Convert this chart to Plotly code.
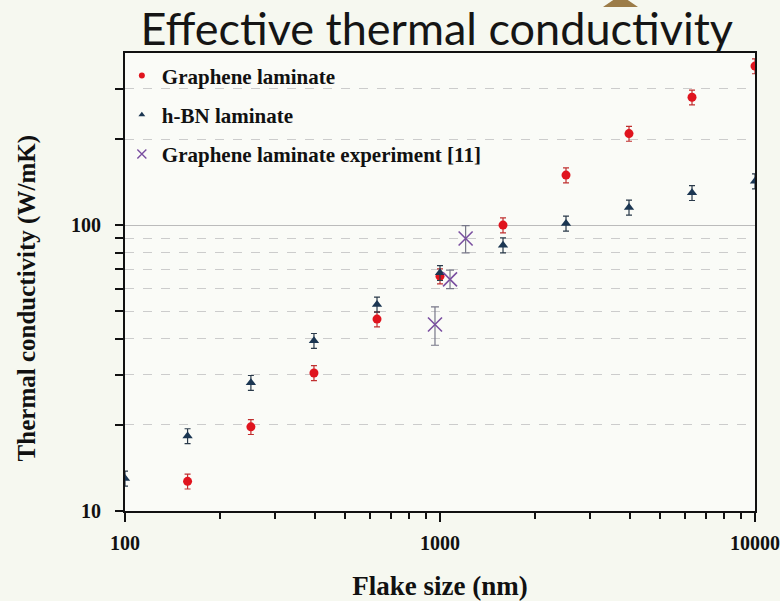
import plotly.graph_objects as go

# Data
flake_size = [100, 158, 251, 398, 631, 1000, 1585, 2512, 3981, 6310, 10000]
graphene_k = [None, 12.7, 19.7, 30.4, 46.9, 66.3, 100, 149.6, 209, 280, 360]
hbn_k = [13.0, 18.3, 28.1, 39.4, 52.8, 68.1, 85.1, 101.4, 115.3, 129.7, 142.5]
exp_size = [964, 1076, 1206]
exp_k = [44.9, 64.6, 89.8]
exp_err_plus = [6.9, 5.0, 9.8]
exp_err_minus = [6.9, 4.6, 9.8]

names = ["Graphene laminate", "h-BN laminate", "Graphene laminate experiment [11]"]

serif = "Liberation Serif, Times New Roman, serif"
red, navy, purple = "#e0141e", "#1b3652", "#7a4fa0"

fig = go.Figure()
fig.add_trace(go.Scatter(
    x=flake_size, y=graphene_k, mode="markers", name=names[0], showlegend=False,
    marker=dict(symbol="circle", size=9, color=red),
    error_y=dict(type="percent", value=6, color="#c03030", thickness=1.2, width=3),
))
fig.add_trace(go.Scatter(
    x=flake_size, y=hbn_k, mode="markers", name=names[1], showlegend=False,
    marker=dict(symbol="triangle-up", size=9, color=navy),
    error_y=dict(type="percent", value=6, color="#2a3a4a", thickness=1.2, width=3),
))
fig.add_trace(go.Scatter(
    x=exp_size, y=exp_k, mode="markers", name=names[2], showlegend=False,
    marker=dict(symbol="x-thin", size=14, color=purple,
                line=dict(width=1.6, color=purple)),
    error_y=dict(type="data", array=exp_err_plus, arrayminus=exp_err_minus,
                 color="#777788", thickness=1.2, width=4),
))

# legend entries (smaller markers, as in the original legend)
legend_styles = [
    dict(symbol="circle", size=6, color=red),
    dict(symbol="triangle-up", size=6, color=navy),
    dict(symbol="x-thin", size=9, color=purple, line=dict(width=1.4, color=purple)),
]
for i, (nm, mk) in enumerate(zip(names, legend_styles)):
    fig.add_trace(go.Scatter(x=[None], y=[None], mode="markers", name=nm,
                             legendgroup=str(i), marker=mk))

fig.update_layout(
    width=780, height=601,
    margin=dict(l=125, r=25, t=53, b=90, autoexpand=False),
    paper_bgcolor="#f6f8f0",
    plot_bgcolor="#fafbf7",
    title=dict(text="Effective thermal conductivity", x=0.56, xanchor="center",
               y=0.952, yanchor="middle",
               font=dict(family="Lato, Open Sans, sans-serif", size=45, color="#151515", weight=400)),
    showlegend=True,
    legend=dict(x=-0.005, y=0.995, xanchor="left", yanchor="top",
                bgcolor="rgba(0,0,0,0)", tracegroupgap=9,
                font=dict(family=serif, size=21, color="#111111", weight="bold"),
                itemwidth=30),
    xaxis=dict(
        type="log", range=[2, 4], automargin=False,
        tickvals=[100, 1000, 10000], ticktext=["100", "1000", "10000"],
        ticks="outside", ticklen=9, tickwidth=2, tickcolor="#111111",
        ticklabelstandoff=4,
        showline=True, linecolor="#111111", linewidth=2, mirror=True,
        showgrid=False, zeroline=False,
        tickfont=dict(family=serif, size=20, color="#111111", weight="bold"),
        title=dict(text="Flake size (nm)", standoff=28,
                   font=dict(family=serif, size=27, color="#111111", weight="bold")),
        minor=dict(tickvals=[200, 300, 400, 500, 600, 700, 800, 900,
                             2000, 3000, 4000, 5000, 6000, 7000, 8000, 9000],
                   ticks="outside", ticklen=6, tickwidth=2, tickcolor="#111111",
                   showgrid=False),
    ),
    yaxis=dict(
        type="log", range=[1, 2.602], automargin=False,
        tickvals=[10, 100], ticktext=["10", "100"],
        ticks="outside", ticklen=8, tickwidth=2, tickcolor="#111111",
        ticklabelstandoff=10,
        showline=True, linecolor="#111111", linewidth=2, mirror=True,
        showgrid=True, gridcolor="#bbbbbb", gridwidth=1, zeroline=False,
        tickfont=dict(family=serif, size=20, color="#111111", weight="bold"),
        minor=dict(tickvals=[20, 30, 40, 50, 60, 70, 80, 90, 200, 300],
                   ticks="outside", ticklen=8, tickwidth=2, tickcolor="#111111",
                   showgrid=True, gridcolor="#cccccc", griddash="dash", gridwidth=1),
    ),
    annotations=[dict(text="Thermal conductivity (W/mK)", xref="paper", yref="paper",
                      x=-0.155, y=0.465, xanchor="center", yanchor="middle",
                      textangle=-90, showarrow=False,
                      font=dict(family=serif, size=25, color="#111111", weight="bold"))],
    shapes=[dict(type="path", xref="paper", yref="paper",
                 path="M 0.7587 1.1004 L 0.8143 1.1004 L 0.7865 1.1266 Z",
                 fillcolor="#9c7c48", line=dict(width=0), layer="above")],
)

fig.write_html("out.html")
